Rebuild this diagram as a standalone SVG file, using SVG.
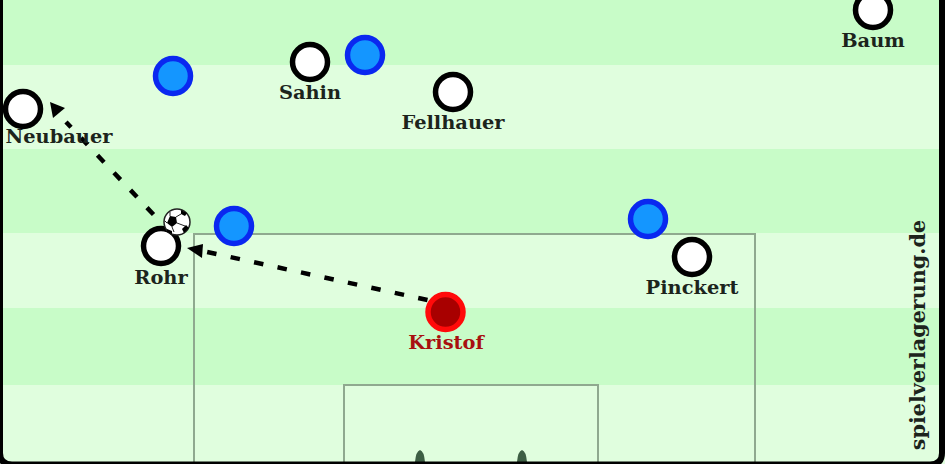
<svg xmlns="http://www.w3.org/2000/svg" width="945" height="464" viewBox="0 0 945 464">
<style>
.lbl{font-family:"DejaVu Serif",serif;font-weight:700;font-size:19.400px;fill:#1c241c;text-anchor:middle}
.pl{fill:#fff;stroke:#000;stroke-width:5.500}
.opp{fill:#1496ff;stroke:#0a28f0;stroke-width:5.500}
.pass{fill:none;stroke:#000;stroke-width:4.500;stroke-dasharray:9.500 14.500}
.box{fill:none;stroke:#8fa98f;stroke-width:2}
</style>
<g id="pitch">
<rect width="945" height="464" fill="#fff"/>
<rect width="945" height="65" fill="#c8fcc8"/>
<rect y="65" width="945" height="84" fill="#e0fede"/>
<rect y="149" width="945" height="84" fill="#c8fcc8"/>
<rect y="233" width="945" height="75" fill="#e0fede"/>
<rect y="308" width="945" height="77" fill="#c8fcc8"/>
<rect y="385" width="945" height="79" fill="#e0fede"/>
<rect class="box" x="194" y="234" width="561" height="240"/>
<rect class="box" x="344" y="385" width="254" height="90"/>
<path d="M415 462Q416 451 420 450Q424 451 425 462ZM517 462Q518 451 522 450Q526 451 527 462Z" fill="#3d5f44"/>
<path d="M0 -10V453Q0 464.500 12 464.500H930Q942 464.500 942 453V-10" fill="none" stroke="#000" stroke-width="6"/>
</g>
<g id="connectors">
<path class="pass" d="M427.500 300L205 251.500"/>
<path d="M187 248L203 244L202 258Z" fill="#000"/>
<path class="pass" d="M153.500 214.500L66 122"/>
<path d="M50 102L65 108L53 118Z" fill="#000"/>
</g>
<g id="baum"><circle class="pl" cx="873" cy="10" r="17.500"/><text class="lbl" x="873" y="46.500">Baum</text></g>
<g id="sahin"><circle class="pl" cx="310" cy="62" r="17.500"/><text class="lbl" x="310" y="98.500">Sahin</text></g>
<g id="fellhauer"><circle class="pl" cx="453" cy="92" r="17.500"/><text class="lbl" x="453" y="128.500">Fellhauer</text></g>
<g id="neubauer"><circle class="pl" cx="23" cy="109" r="17.500"/><text class="lbl" x="59" y="142.500">Neubauer</text></g>
<g id="rohr"><circle class="pl" cx="161" cy="246" r="17.500"/><text class="lbl" x="161" y="283.500">Rohr</text></g>
<g id="pinckert"><circle class="pl" cx="692" cy="257" r="17.500"/><text class="lbl" x="692" y="293.500">Pinckert</text></g>
<g id="kristof"><circle cx="445.500" cy="312" r="17.500" fill="#a80000" stroke="#ff0a0a" stroke-width="5.500"/><text class="lbl" x="446" y="348.500" style="fill:#a81010">Kristof</text></g>
<g id="opp1"><circle class="opp" cx="173" cy="76" r="17.500"/></g>
<g id="opp2"><circle class="opp" cx="365" cy="55" r="17.500"/></g>
<g id="opp3"><circle class="opp" cx="234" cy="226" r="17.500"/></g>
<g id="opp4"><circle class="opp" cx="648" cy="219" r="17.500"/></g>
<g id="ball">
<circle cx="177" cy="222" r="13" fill="#fff" stroke="#222" stroke-width="1.500"/>
<path d="M170 216L176 217L177 223L172 227L167 223Z" fill="#000"/>
<path d="M181 210L187 213L185 216L181 214ZM186 225L189 228L184 233L182 229ZM167 229L172 231L172 234L167 232Z" fill="#000"/>
<path d="M176 217L181 214M177 223L185 226M172 227L174 232M167 223L165 221M170 216L170 212" stroke="#222" stroke-width="1" fill="none"/>
</g>
<g id="watermark"><text transform="rotate(-90 925 335)" x="925" y="335" style="font-family:'DejaVu Serif',serif;font-weight:700;font-size:20.700px;fill:#1c241c;text-anchor:middle">spielverlagerung.de</text></g>
</svg>
